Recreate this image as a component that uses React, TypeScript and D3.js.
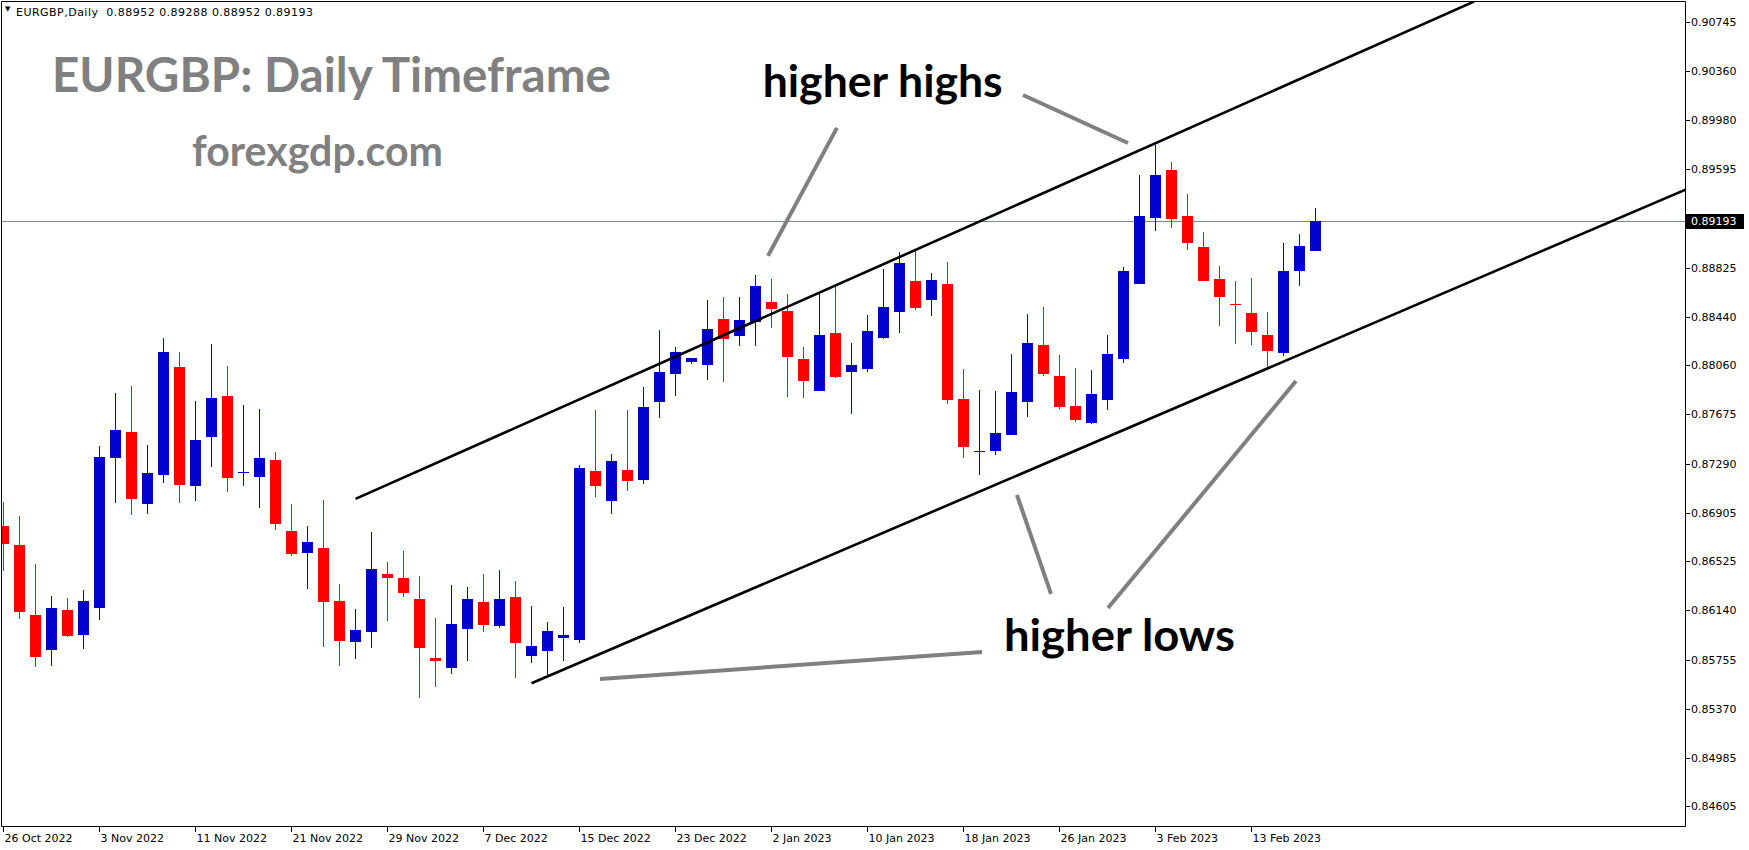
import React from "react";
import * as d3 from "d3";

// ---------- DATA ----------
const opens = [
  0.86801, 0.86653, 0.86105, 0.85833, 0.86144, 0.85950, 0.86162, 0.87336, 0.87537, 0.86976,
  0.87203, 0.88046, 0.87117, 0.87501, 0.87819, 0.87222, 0.87187, 0.87318, 0.86762, 0.86592,
  0.86629, 0.86214, 0.85895, 0.85974, 0.86426, 0.86394, 0.86230, 0.85768, 0.85692, 0.85997,
  0.86206, 0.86021, 0.86246, 0.85786, 0.85825, 0.85927, 0.85911, 0.87232, 0.86999, 0.87240,
  0.87164, 0.87775, 0.87994, 0.88088, 0.88060, 0.88422, 0.88291, 0.88401, 0.88555, 0.88485,
  0.88109, 0.87861, 0.88313, 0.88010, 0.88033, 0.88276, 0.88479, 0.88720, 0.88573, 0.88696,
  0.87796, 0.87389, 0.87391, 0.87516, 0.87775, 0.88219, 0.87976, 0.87741, 0.87610, 0.87790,
  0.88111, 0.88699, 0.89215, 0.89589, 0.89229, 0.88986, 0.88735, 0.88541, 0.88469, 0.88297,
  0.88158, 0.88800, 0.88952,
];
const highs = [
  0.86992, 0.86880, 0.86504, 0.86253, 0.86238, 0.86300, 0.87428, 0.87843, 0.87898, 0.87436,
  0.88273, 0.88164, 0.87780, 0.88226, 0.88054, 0.87749, 0.87718, 0.87381, 0.86974, 0.86801,
  0.87005, 0.86347, 0.86152, 0.86754, 0.86520, 0.86606, 0.86410, 0.86081, 0.86339, 0.86324,
  0.86426, 0.86457, 0.86371, 0.86175, 0.86050, 0.86167, 0.87279, 0.87710, 0.87365, 0.87710,
  0.87890, 0.88336, 0.88203, 0.88120, 0.88574, 0.88595, 0.88595, 0.88767, 0.88735, 0.88618,
  0.88203, 0.88626, 0.88689, 0.88234, 0.88454, 0.88814, 0.88947, 0.88963, 0.88782, 0.88869,
  0.88031, 0.87866, 0.87858, 0.88148, 0.88461, 0.88516, 0.88140, 0.88039, 0.88023, 0.88297,
  0.88829, 0.89550, 0.89785, 0.89652, 0.89401, 0.89103, 0.88837, 0.88720, 0.88743, 0.88477,
  0.89017, 0.89088, 0.89288,
];
const lows = [
  0.86451, 0.86073, 0.85700, 0.85708, 0.85935, 0.85841, 0.86068, 0.86984, 0.86890, 0.86898,
  0.87140, 0.86984, 0.87000, 0.87266, 0.87070, 0.87117, 0.86945, 0.86772, 0.86569, 0.86310,
  0.85856, 0.85708, 0.85762, 0.85849, 0.86060, 0.86243, 0.85457, 0.85543, 0.85645, 0.85747,
  0.85974, 0.86005, 0.85614, 0.85731, 0.85622, 0.85747, 0.85888, 0.87031, 0.86898, 0.87078,
  0.87133, 0.87649, 0.87822, 0.88073, 0.87943, 0.87931, 0.88213, 0.88213, 0.88354, 0.87814,
  0.87806, 0.87861, 0.87963, 0.87681, 0.88010, 0.88268, 0.88315, 0.88495, 0.88448, 0.87759,
  0.87336, 0.87203, 0.87360, 0.87516, 0.87657, 0.87978, 0.87720, 0.87618, 0.87602, 0.87712,
  0.88080, 0.88699, 0.89114, 0.89137, 0.88965, 0.88722, 0.88370, 0.88229, 0.88221, 0.88023,
  0.88135, 0.88683, 0.88952,
];
const closes = [
  0.86663, 0.86130, 0.85778, 0.86159, 0.85942, 0.86214, 0.87342, 0.87553, 0.87015, 0.87216,
  0.88164, 0.87125, 0.87475, 0.87804, 0.87180, 0.87223, 0.87334, 0.86819, 0.86585, 0.86676,
  0.86209, 0.85903, 0.85987, 0.86465, 0.86397, 0.86279, 0.85849, 0.85747, 0.86034, 0.86230,
  0.86028, 0.86230, 0.85888, 0.85862, 0.85980, 0.85948, 0.87256, 0.87117, 0.87311, 0.87156,
  0.87733, 0.88007, 0.88164, 0.88116, 0.88347, 0.88268, 0.88414, 0.88681, 0.88503, 0.88127,
  0.87939, 0.88297, 0.87970, 0.88062, 0.88328, 0.88516, 0.88861, 0.88508, 0.88728, 0.87790,
  0.87422, 0.87390, 0.87530, 0.87851, 0.88234, 0.87994, 0.87736, 0.87634, 0.87835, 0.88148,
  0.88798, 0.89229, 0.89550, 0.89208, 0.89020, 0.88722, 0.88597, 0.88539, 0.88323, 0.88174,
  0.88798, 0.88994, 0.89193,
];

const dateTickIndex = [0, 6, 12, 18, 24, 30, 36, 42, 48, 54, 60, 66, 72, 78];
const dateTickLabels = [
  "26 Oct 2022", "3 Nov 2022", "11 Nov 2022", "21 Nov 2022", "29 Nov 2022", "7 Dec 2022",
  "15 Dec 2022", "23 Dec 2022", "2 Jan 2023", "10 Jan 2023", "18 Jan 2023", "26 Jan 2023",
  "3 Feb 2023", "13 Feb 2023",
];
const priceTicks = [
  0.90745, 0.9036, 0.8998, 0.89595, 0.88825, 0.8844, 0.8806, 0.87675, 0.8729, 0.86905,
  0.86525, 0.8614, 0.85755, 0.8537, 0.84985, 0.84605,
];
const currentPrice = 0.89193;

// trend channel anchors: [candle index, price]
const upperChannel: [number, number][] = [[22, 0.87013], [91.9, 0.90907]];
const lowerChannel: [number, number][] = [[33, 0.8557], [106, 0.89482]];
// grey pointer lines
const pointerLines: [number, number][][] = [
  [[52.09, 0.89918], [47.78, 0.88916]],
  [[63.72, 0.90176], [70.28, 0.898]],
  [[37.28, 0.85603], [61.16, 0.85815]],
  [[63.34, 0.87044], [65.47, 0.86269]],
  [[69.03, 0.86159], [80.78, 0.87937]],
];
const annotationTexts = [
  { text: "higher highs", idx: 47.45, price: 0.90158, len: 240 },
  { text: "higher lows", idx: 62.53, price: 0.85823, len: 231 },
];

// ---------- LAYOUT ----------
const W = 1749;
const H = 850;
const L = 2, T = 2, R = 1685, B = 826;
const BULL = "#0000CD";
const BEAR = "#FF0000";
const AXIS_FONT = "'DejaVu Sans', Tahoma, sans-serif";
const BOLD_FONT = "Lato, 'Open Sans', sans-serif";

export default function App() {
  const x = d3.scaleLinear().domain([0, 82]).range([3.5, 1315.5]);
  const y = d3.scaleLinear().domain([0.84452, 0.90904]).range([B, T]);
  const line = d3.line<[number, number]>().x((d) => x(d[0])).y((d) => y(d[1]));

  const candles = opens.map((o, i) => ({ o, h: highs[i], l: lows[i], c: closes[i], i }));

  return (
    <svg width={W} height={H} style={{ position: "absolute", left: 0, top: 0, background: "#fff" }}>
      <defs>
        <clipPath id="plot">
          <rect x={L} y={T} width={R - L} height={B - T} />
        </clipPath>
      </defs>
      <rect x={0} y={0} width={W} height={H} fill="#fff" />

      <g clipPath="url(#plot)">
        {/* current price line */}
        <line x1={L} x2={R} y1={Math.round(y(currentPrice)) + 0.5} y2={Math.round(y(currentPrice)) + 0.5} stroke="#7a8796" strokeWidth={1} />

        {/* candles */}
        {candles.map((d) => {
          const cx = Math.floor(x(d.i)) + 0.5;
          const col = d.c >= d.o ? BULL : BEAR;
          const yTop = Math.round(y(Math.max(d.o, d.c)));
          const yBot = Math.round(y(Math.min(d.o, d.c)));
          return (
            <g key={d.i}>
              <line x1={cx} x2={cx} y1={Math.round(y(d.h))} y2={Math.round(y(d.l))} stroke={col} strokeWidth={1} />
              <rect x={cx - 5.5} y={yTop} width={11} height={Math.max(1, yBot - yTop)} fill={col} />
            </g>
          );
        })}

        {/* channel */}
        <path d={line(upperChannel) || ""} stroke="#000" strokeWidth={2.6} fill="none" />
        <path d={line(lowerChannel) || ""} stroke="#000" strokeWidth={2.6} fill="none" />

        {/* pointer lines */}
        {pointerLines.map((p, i) => (
          <path key={i} d={line(p) || ""} stroke="#808080" strokeWidth={4} fill="none" />
        ))}

        {/* annotation texts */}
        {annotationTexts.map((a, i) => (
          <text key={i} x={x(a.idx)} y={y(a.price)} fontFamily={BOLD_FONT} fontWeight={700} fontSize={43} fill="#000" textLength={a.len} lengthAdjust="spacingAndGlyphs">
            {a.text}
          </text>
        ))}

        {/* titles */}
        <text x={52} y={92} fontFamily={BOLD_FONT} fontWeight={700} fontSize={48} fill="#808080" textLength={559} lengthAdjust="spacingAndGlyphs">
          EURGBP: Daily Timeframe
        </text>
        <text x={192} y={166} fontFamily={BOLD_FONT} fontWeight={700} fontSize={42} fill="#808080" textLength={251} lengthAdjust="spacingAndGlyphs">
          forexgdp.com
        </text>
      </g>

      {/* frame */}
      <line x1={L - 0.5} x2={L - 0.5} y1={T - 0.5} y2={B + 0.5} stroke="#000" />
      <line x1={L - 0.5} x2={R + 0.5} y1={T - 0.5} y2={T - 0.5} stroke="#000" />
      <line x1={R + 0.5} x2={R + 0.5} y1={T - 0.5} y2={B + 0.5} stroke="#000" />
      <line x1={L - 0.5} x2={R + 0.5} y1={B + 0.5} y2={B + 0.5} stroke="#000" />

      {/* header */}
      <text x={5} y={11} fontFamily={AXIS_FONT} fontSize={7} fill="#000">▼</text>
      <text x={16} y={16} fontFamily={AXIS_FONT} fontSize={11} fill="#000" textLength={297} lengthAdjust="spacing" style={{ whiteSpace: "pre" }}>
        {"EURGBP,Daily  0.88952 0.89288 0.88952 0.89193"}
      </text>

      {/* price axis */}
      {priceTicks.map((p, i) => {
        const yy = Math.round(y(p)) + 0.5;
        return (
          <g key={i}>
            <line x1={R + 1} x2={R + 5} y1={yy} y2={yy} stroke="#000" />
            <text x={1691} y={yy} dy="0.36em" fontFamily={AXIS_FONT} fontSize={11} fill="#000">
              {p.toFixed(5)}
            </text>
          </g>
        );
      })}
      <g>
        <rect x={1686} y={Math.round(y(currentPrice)) - 7} width={58} height={15} fill="#000" />
        <text x={1691} y={Math.round(y(currentPrice)) + 0.5} dy="0.36em" fontFamily={AXIS_FONT} fontSize={11} fill="#fff">
          {currentPrice.toFixed(5)}
        </text>
      </g>

      {/* time axis */}
      {dateTickIndex.map((idx, i) => {
        const xx = Math.floor(x(idx)) + 0.5;
        return (
          <g key={i}>
            <line x1={xx} x2={xx} y1={B + 1} y2={B + 6} stroke="#000" />
            <text x={xx + 1} y={842} fontFamily={AXIS_FONT} fontSize={11} fill="#000">
              {dateTickLabels[i]}
            </text>
          </g>
        );
      })}
    </svg>
  );
}
